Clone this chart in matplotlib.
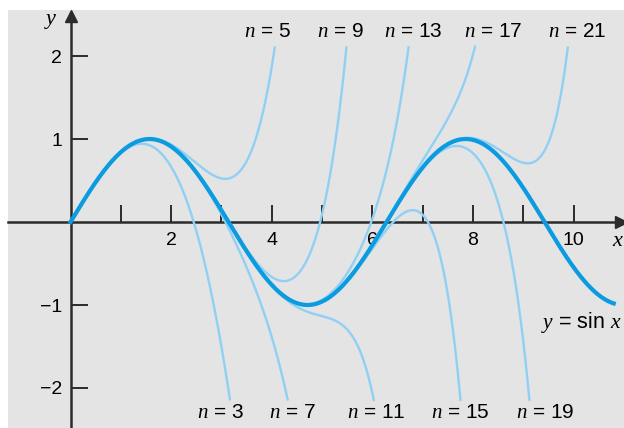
import math
import numpy as np
import matplotlib
matplotlib.use('Agg')
import matplotlib.pyplot as plt
from matplotlib.patches import Rectangle

plt.rcParams['font.family'] = ['Liberation Sans', 'DejaVu Sans']
plt.rcParams['mathtext.fontset'] = 'custom'
plt.rcParams['mathtext.it'] = 'Liberation Serif:italic'
plt.rcParams['mathtext.rm'] = 'Liberation Sans'

# Taylor polynomial degrees shown, and where their labels sit
degrees_top = [5, 9, 13, 17, 21]
degrees_bottom = [3, 7, 11, 15, 19]
top_label_x = [3.91, 5.36, 6.81, 8.40, 10.07]
bottom_label_x = [2.99, 4.42, 6.07, 7.74, 9.43]
x_ticks = [1, 2, 3, 4, 5, 6, 7, 8, 9, 10]
x_ticklabels = ['', '2', '', '4', '', '6', '', '8', '', '10']
y_ticks = [-2, -1, 1, 2]
y_ticklabels = ['\u22122', '\u22121', '1', '2']
x_end = 10.8
y_top, y_bottom = 2.13, -2.16

light = '#8fd0f4'
dark = '#0a9be0'
axis_col = '#2b2b2b'


def taylor_sin(x, n):
    s = np.zeros_like(x)
    for k in range((n - 1) // 2 + 1):
        p = 2 * k + 1
        s += (-1) ** k * x ** p / math.factorial(p)
    return s


fig = plt.figure(figsize=(6.24, 4.28), dpi=100)
fig.patches.append(Rectangle((8 / 624, 0), 1, 1 - 10 / 428, transform=fig.transFigure,
                             facecolor='#e4e4e4', edgecolor='none', zorder=-5))
ax = fig.add_axes([0, 0, 1, 1])
ax.set_facecolor('none')
ax.set_xlim(-1.402, 11.004)
ax.set_ylim(-2.482, 2.675)

xs = np.linspace(0, 11, 3000)
for n in degrees_top + degrees_bottom:
    ys = taylor_sin(xs, n)
    bad = np.where((ys > y_top) | (ys < y_bottom))[0]
    stop = bad[0] if len(bad) else len(xs)
    ax.plot(xs[:stop], ys[:stop], color=light, lw=1.7, zorder=2, solid_capstyle='butt')

xsin = np.linspace(0, x_end, 1000)
ax.plot(xsin, np.sin(xsin), color=dark, lw=3.0, zorder=3)

# axes through the origin
for s in ['top', 'right']:
    ax.spines[s].set_visible(False)
ax.spines['left'].set_position(('data', 0))
ax.spines['bottom'].set_position(('data', 0))
ax.spines['left'].set_bounds(-2.482, 2.45)
ax.spines['bottom'].set_bounds(-1.25, 10.85)
for s in ['left', 'bottom']:
    ax.spines[s].set_color(axis_col)
    ax.spines[s].set_linewidth(1.8)
    ax.spines[s].set_zorder(1)
ax.plot(10.95, 0, '>', color=axis_col, ms=8, clip_on=False)
ax.plot(0, 2.48, '^', color=axis_col, ms=8, clip_on=False)

ax.set_xticks(x_ticks)
ax.set_xticklabels(x_ticklabels)
ax.set_yticks(y_ticks)
ax.set_yticklabels(y_ticklabels)
ax.tick_params(direction='in', length=12, width=1.4, color=axis_col, labelsize=14)
ax.tick_params(axis='x', pad=7)
ax.tick_params(axis='y', pad=6)

ax.text(-0.40, 2.43, '$y$', fontsize=16, ha='center', va='center')
ax.text(10.88, -0.22, '$x$', fontsize=16, ha='center', va='center')
ax.text(10.96, -1.205, '$y$ = sin $x$', fontsize=15.5, ha='right', va='center')

for n, lx in zip(degrees_top, top_label_x):
    ax.text(lx, 2.30, '$n$ = %d' % n, fontsize=15, ha='center', va='center')
for n, lx in zip(degrees_bottom, bottom_label_x):
    ax.text(lx, -2.30, '$n$ = %d' % n, fontsize=15, ha='center', va='center')

fig.savefig('out.png', dpi=100)
